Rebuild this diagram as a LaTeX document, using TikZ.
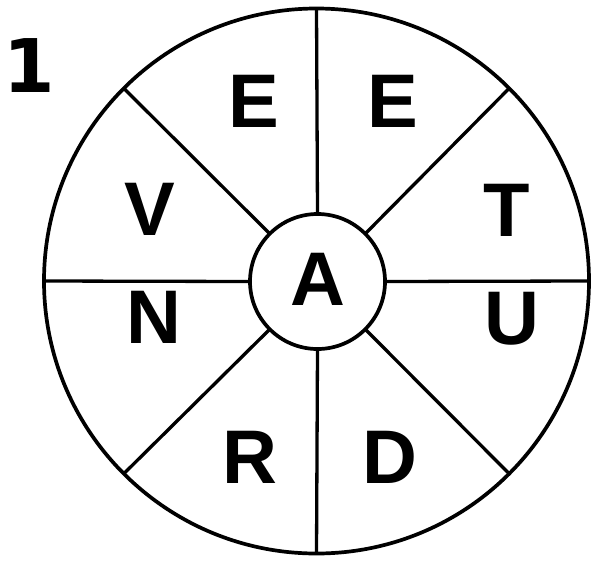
\documentclass[tikz,border=0pt]{standalone}
\usepackage{fontspec}
\setmainfont{Liberation Sans}
\newfontfamily\numfont{DejaVu Sans}
\tikzset{
  ring/.style={circle, draw=black, line width=3.7pt, inner sep=0pt, outer sep=0pt},
  spoke/.style={draw=black, line width=3.3pt},
  letter/.style={inner sep=0pt, outer sep=0pt, font=\fontsize{76}{76}\selectfont\bfseries, text=black}
}
\begin{document}
\begin{tikzpicture}[x=1pt, y=-1pt]
\useasboundingbox (0,0) rectangle (591,560);
\node[ring, minimum size=545pt] (O) at (316.5,281) {};
\node[ring, minimum size=135pt] (I) at (317.5,281.5) {};
\foreach \a in {0,45,...,315} {
  \draw[spoke] (I.\a) -- (O.\a);
}
\node[letter] (A) at (318,279) {A};
\node[letter] (E1) at (254,101) {E};
\node[letter] (E2) at (393,101) {E};
\node[letter] (T) at (506.5,210.5) {T};
\node[letter] (U) at (512,319) {U};
\node[letter] (D) at (390,457) {D};
\node[letter] (R) at (249.5,457) {R};
\node[letter] (N) at (153.5,317.5) {N};
\node[letter] (V) at (150,209) {V};
\node[inner sep=0pt, font=\numfont\fontsize{74}{74}\selectfont\bfseries] (one) at (29,66) {1};
\end{tikzpicture}
\end{document}
